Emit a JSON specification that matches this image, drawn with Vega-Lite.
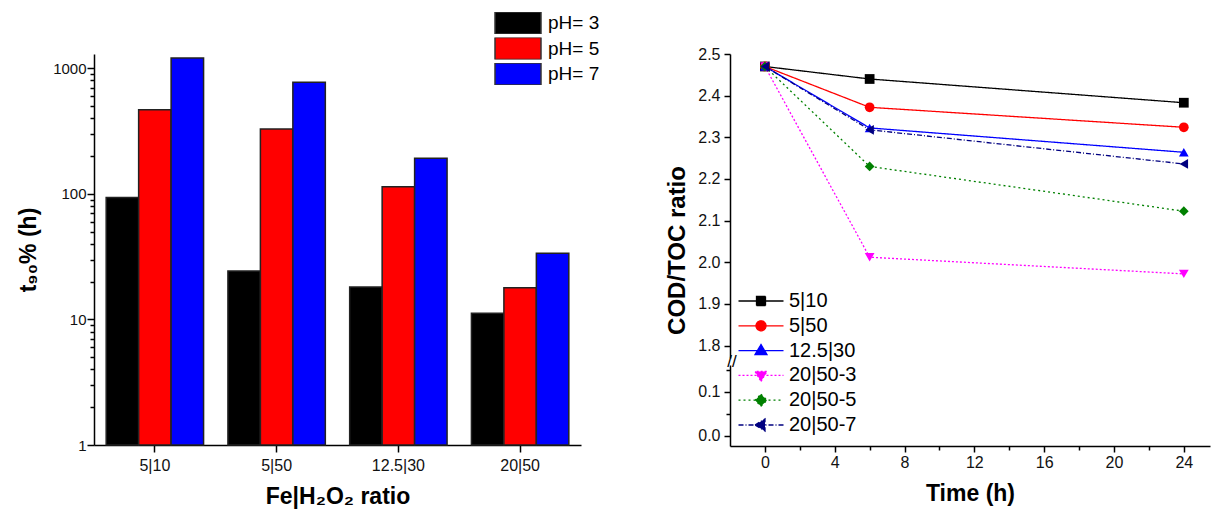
{
  "$schema": "https://vega.github.io/schema/vega-lite/v6.json",
  "padding": {"left": 17, "top": 12, "right": 2, "bottom": 3},
  "spacing": 149,
  "bounds": "flush",
  "resolve": {"scale": {"color": "independent"}, "legend": {"color": "independent"}},
  "config": {
    "view": {"stroke": null},
    "font": "Liberation Sans",
    "axis": {
      "grid": false,
      "domainColor": "#000",
      "domainWidth": 1.5,
      "tickColor": "#000",
      "tickWidth": 1.5,
      "labelFont": "Liberation Sans",
      "labelColor": "#111",
      "labelFontSize": 16,
      "titleFont": "Liberation Sans",
      "titleFontWeight": "bold",
      "titleFontSize": 23,
      "titleColor": "#000",
      "labelOverlap": false,
      "labelBound": false
    },
    "legend": {"labelFont": "Liberation Sans", "labelColor": "#000", "padding": 0}
  },
  "hconcat": [
    {
      "width": 487,
      "height": 391,
      "data": {
        "values": [
          {"ratio": "5|10", "pH": "pH= 3", "t90": 93.4},
          {"ratio": "5|10", "pH": "pH= 5", "t90": 467},
          {"ratio": "5|10", "pH": "pH= 7", "t90": 1206},
          {"ratio": "5|50", "pH": "pH= 3", "t90": 24.3},
          {"ratio": "5|50", "pH": "pH= 5", "t90": 328},
          {"ratio": "5|50", "pH": "pH= 7", "t90": 776},
          {"ratio": "12.5|30", "pH": "pH= 3", "t90": 18.1},
          {"ratio": "12.5|30", "pH": "pH= 5", "t90": 114},
          {"ratio": "12.5|30", "pH": "pH= 7", "t90": 192},
          {"ratio": "20|50", "pH": "pH= 3", "t90": 11.2},
          {"ratio": "20|50", "pH": "pH= 5", "t90": 17.9},
          {"ratio": "20|50", "pH": "pH= 7", "t90": 33.7}
        ]
      },
      "mark": {"type": "bar", "stroke": "#222", "strokeWidth": 1.5},
      "encoding": {
        "x": {
          "field": "ratio", "type": "nominal",
          "sort": ["5|10", "5|50", "12.5|30", "20|50"],
          "scale": {"paddingInner": 0.2, "paddingOuter": 0.1},
          "axis": {"title": "Fe|H₂O₂ ratio", "labelAngle": 0, "tickSize": 7, "labelPadding": 5, "titlePadding": 12}
        },
        "xOffset": {
          "field": "pH", "type": "nominal",
          "sort": ["pH= 3", "pH= 5", "pH= 7"],
          "scale": {"paddingInner": 0, "paddingOuter": 0}
        },
        "y": {
          "field": "t90", "type": "quantitative", "stack": null,
          "scale": {"type": "log", "domain": [1, 1300], "nice": false},
          "axis": {
            "title": "t₉₀% (h)",
            "values": [1, 2, 3, 4, 5, 6, 7, 8, 9, 10, 20, 30, 40, 50, 60, 70, 80, 90, 100, 200, 300, 400, 500, 600, 700, 800, 900, 1000],
            "labelExpr": "indexof([1,10,100,1000], datum.value) >= 0 ? format(datum.value, 'd') : ''",
            "tickSize": {"condition": {"test": "indexof([1,10,100,1000], datum.value) >= 0", "value": 7}, "value": 4},
            "labelPadding": 1,
            "labelFontSize": 15,
            "titlePadding": 12
          }
        },
        "color": {
          "field": "pH", "type": "nominal",
          "scale": {"domain": ["pH= 3", "pH= 5", "pH= 7"], "range": ["#000000", "#ff0000", "#0000ff"]},
          "legend": {
            "orient": "none", "legendX": 400, "legendY": -42, "title": null,
            "labelFontSize": 19, "symbolType": "M-1,-0.48H1V0.48H-1Z", "symbolSize": 2116,
            "clipHeight": 22, "rowPadding": 3.5, "labelOffset": 6,
            "symbolStrokeColor": "#333", "symbolStrokeWidth": 1.5,
            "encode": {"symbols": {"update": {"stroke": {"value": "#333"}, "strokeWidth": {"value": 1.5}}}}
          }
        }
      }
    },
    {
      "spacing": 7,
      "bounds": "flush",
      "vconcat": [
        {
          "width": 480,
          "height": 304,
          "data": {"name": "lines", "values": [
            {"series": "5|10", "time": 0, "ratio": 2.47},
            {"series": "5|10", "time": 6, "ratio": 2.44},
            {"series": "5|10", "time": 24, "ratio": 2.383},
            {"series": "5|50", "time": 0, "ratio": 2.47},
            {"series": "5|50", "time": 6, "ratio": 2.372},
            {"series": "5|50", "time": 24, "ratio": 2.324},
            {"series": "12.5|30", "time": 0, "ratio": 2.47},
            {"series": "12.5|30", "time": 6, "ratio": 2.3225},
            {"series": "12.5|30", "time": 24, "ratio": 2.264},
            {"series": "20|50-3", "time": 0, "ratio": 2.47},
            {"series": "20|50-3", "time": 6, "ratio": 2.012},
            {"series": "20|50-3", "time": 24, "ratio": 1.972},
            {"series": "20|50-5", "time": 0, "ratio": 2.47},
            {"series": "20|50-5", "time": 6, "ratio": 2.23},
            {"series": "20|50-5", "time": 24, "ratio": 2.1225},
            {"series": "20|50-7", "time": 0, "ratio": 2.47},
            {"series": "20|50-7", "time": 6, "ratio": 2.318},
            {"series": "20|50-7", "time": 24, "ratio": 2.236}
          ]},
          "layer": [
            {
              "mark": {"type": "line", "strokeWidth": 1.3},
              "encoding": {
                "x": {"field": "time", "type": "quantitative", "scale": {"domain": [-2, 25.5], "nice": false}, "axis": null},
                "y": {
                  "field": "ratio", "type": "quantitative",
                  "scale": {"domain": [1.77, 2.5], "nice": false, "zero": false},
                  "axis": {
                    "title": "COD/TOC ratio",
                    "titleY": 196,
                    "titlePadding": 8,
                    "titleFontSize": 24,
                    "values": [1.8, 1.85, 1.9, 1.95, 2.0, 2.05, 2.1, 2.15, 2.2, 2.25, 2.3, 2.35, 2.4, 2.45, 2.5],
                    "labelExpr": "abs(datum.value*10 - round(datum.value*10)) < 0.01 ? format(datum.value, '.1f') : ''",
                    "tickSize": {"condition": {"test": "abs(datum.value*10 - round(datum.value*10)) < 0.01", "value": 6}, "value": 4},
                    "labelPadding": 4
                  }
                },
                "color": {
                  "field": "series", "type": "nominal",
                  "scale": {"domain": ["5|10", "5|50", "12.5|30", "20|50-3", "20|50-5", "20|50-7"], "range": ["#000000", "#ff0000", "#0000ff", "#ff00ff", "#008000", "#000080"]},
                  "legend": {
                    "orient": "none", "legendX": 21, "legendY": 237, "title": null,
                    "labelFontSize": 20, "symbolSize": 100, "labelOffset": 18, "rowPadding": 4.8,
                    "encode": {
                      "symbols": {
                        "update": {
                          "shape": {"signal": "['M-4.5,0H4.5M-0.9,-0.9H0.9V0.9H-0.9Z','M-4.5,0H4.5M-1,0A1,1,0,1,0,1,0A1,1,0,1,0,-1,0Z','M-4.5,0H4.5M0,-1.2L1.2,0.8H-1.2Z','M-4.5,0H4.5M0,1.2L1.2,-0.8H-1.2Z','M-4.5,0H4.5M0,-1.2L1.2,0L0,1.2L-1.2,0Z','M-4.5,0H4.5M-1.2,0L0.8,-1.2V1.2Z'][indexof(['5|10','5|50','12.5|30','20|50-3','20|50-5','20|50-7'], datum.value)]"},
                          "fill": {"signal": "['#000000','#ff0000','#0000ff','#ff00ff','#008000','#000080'][indexof(['5|10','5|50','12.5|30','20|50-3','20|50-5','20|50-7'], datum.value)]"},
                          "stroke": {"signal": "['#000000','#ff0000','#0000ff','#ff00ff','#008000','#000080'][indexof(['5|10','5|50','12.5|30','20|50-3','20|50-5','20|50-7'], datum.value)]"},
                          "strokeDash": {"signal": "[[1,0],[1,0],[1,0],[2,2],[2,3],[5,2,1,2]][indexof(['5|10','5|50','12.5|30','20|50-3','20|50-5','20|50-7'], datum.value)]"},
                          "strokeWidth": {"value": 1.3},
                          "opacity": {"value": 1}
                        }
                      }
                    }
                  }
                },
                "strokeDash": {
                  "field": "series", "type": "nominal", "legend": null,
                  "scale": {"domain": ["5|10", "5|50", "12.5|30", "20|50-3", "20|50-5", "20|50-7"], "range": [[1, 0], [1, 0], [1, 0], [2, 2], [2, 3], [5, 2, 1, 2]]}
                }
              }
            },
            {
              "mark": {"type": "point", "filled": true, "size": 95, "opacity": 1},
              "encoding": {
                "x": {"field": "time", "type": "quantitative"},
                "y": {"field": "ratio", "type": "quantitative"},
                "color": {"field": "series", "type": "nominal"},
                "shape": {
                  "field": "series", "type": "nominal", "legend": null,
                  "scale": {"domain": ["5|10", "5|50", "12.5|30", "20|50-3", "20|50-5", "20|50-7"], "range": ["square", "circle", "triangle-up", "triangle-down", "diamond", "triangle-left"]}
                }
              }
            },
            {
              "data": {"values": [{"mark": "break"}]},
              "mark": {"type": "text", "text": "//", "fontSize": 17, "dy": 4, "dx": 2, "align": "center", "baseline": "middle", "color": "#000"},
              "encoding": {
                "x": {"datum": -2, "type": "quantitative"},
                "y": {"datum": 1.77, "type": "quantitative"}
              }
            }
          ]
        },
        {
          "width": 480,
          "height": 81,
          "data": {"name": "lines"},
          "mark": {"type": "point", "opacity": 0, "clip": true},
          "encoding": {
            "x": {
              "field": "time", "type": "quantitative",
              "scale": {"domain": [-2, 25.5], "nice": false},
              "axis": {
                "title": "Time (h)",
                "values": [0, 2, 4, 6, 8, 10, 12, 14, 16, 18, 20, 22, 24],
                "labelExpr": "datum.value % 4 == 0 ? datum.label : ''",
                "tickSize": {"condition": {"test": "datum.value % 4 == 0", "value": 6}, "value": 4},
                "labelPadding": 2,
                "titlePadding": 12
              }
            },
            "y": {
              "field": "ratio", "type": "quantitative",
              "scale": {"domain": [-0.023, 0.161], "nice": false, "zero": false},
              "axis": {
                "title": null,
                "values": [0, 0.05, 0.1, 0.15],
                "labelExpr": "abs(datum.value*10 - round(datum.value*10)) < 0.01 ? format(datum.value, '.1f') : ''",
                "tickSize": {"condition": {"test": "abs(datum.value*10 - round(datum.value*10)) < 0.01", "value": 6}, "value": 4},
                "labelPadding": 4
              }
            }
          }
        }
      ]
    }
  ]
}
